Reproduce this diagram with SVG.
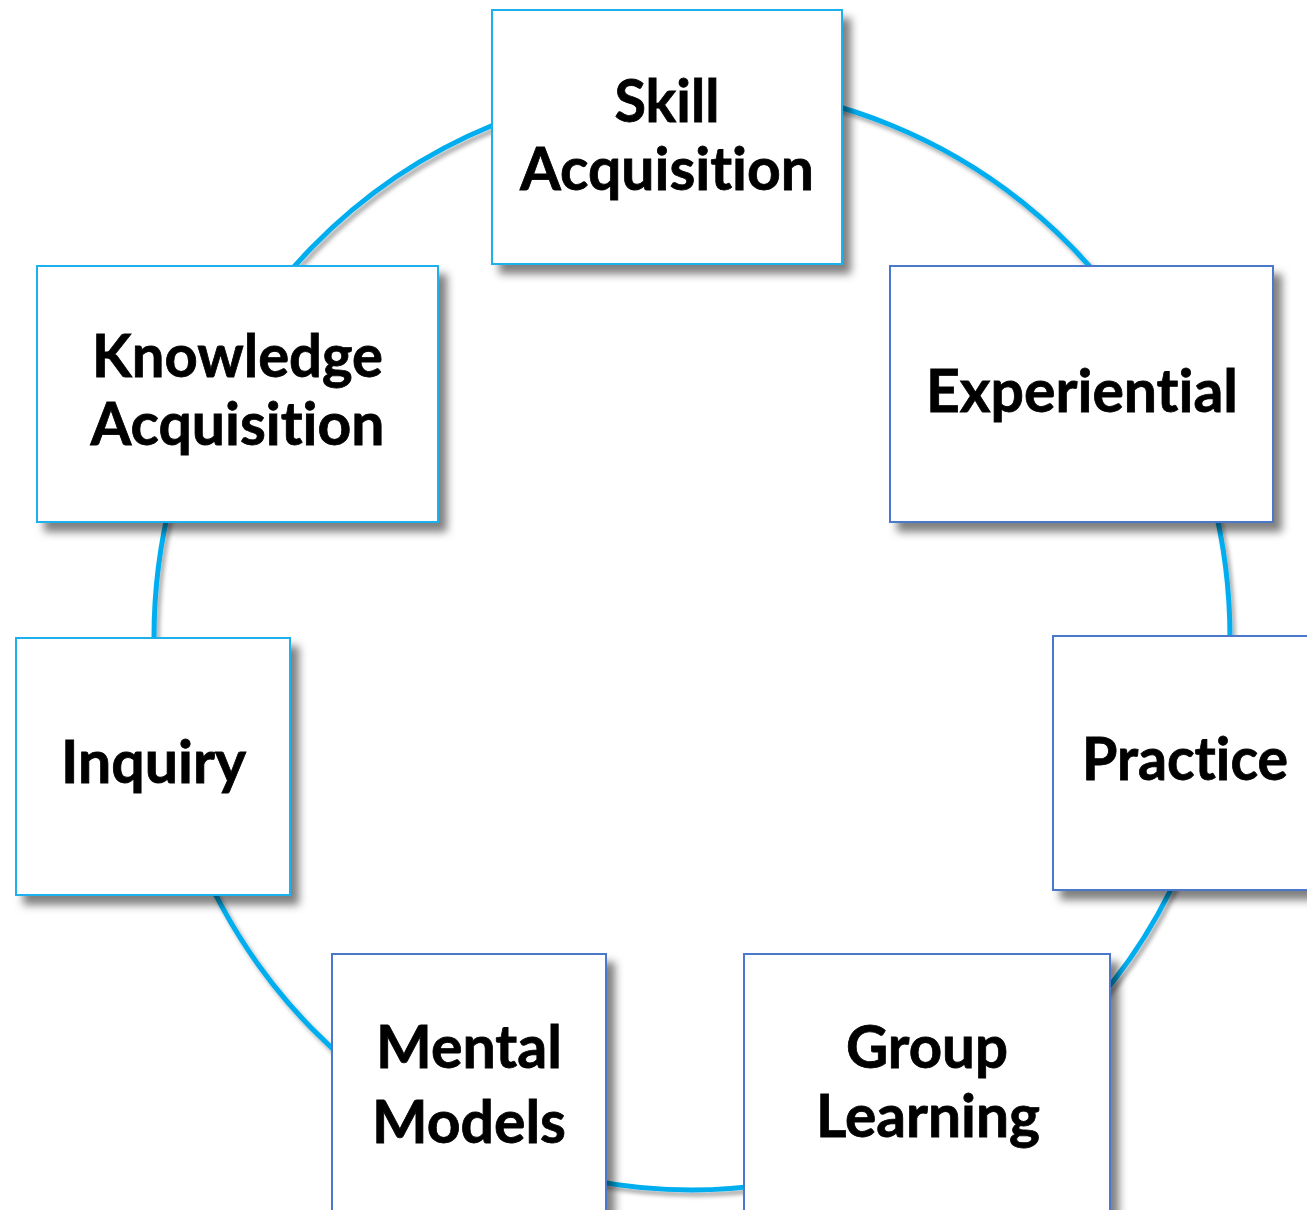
<svg xmlns="http://www.w3.org/2000/svg" width="1307" height="1210" viewBox="0 0 1307 1210">
<defs>
<filter id="sh" x="-10%" y="-10%" width="130%" height="130%">
<feDropShadow dx="8" dy="9" stdDeviation="4" flood-color="#000" flood-opacity="0.5"/>
</filter>
<filter id="lsh" x="-10%" y="-10%" width="130%" height="130%">
<feDropShadow dx="3" dy="4" stdDeviation="2" flood-color="#000" flood-opacity="0.35"/>
</filter>
</defs>
<style>
.box{fill:#fff;stroke-width:2;filter:url(#sh)}
.lb{stroke:#1fb0ec}
.db{stroke:#4a78cc}
.t{font-family:Lato,"Open Sans","Liberation Sans",sans-serif;font-weight:bold;font-size:60px;fill:#000;stroke:#000;stroke-width:0.8;text-anchor:middle;font-variant-ligatures:none;font-feature-settings:"liga" 0,"clig" 0}
.ring{fill:none;stroke:#00aeef;stroke-width:5}
</style>
<rect width="1307" height="1210" fill="#fff"/>
<g id="connectors">
<ellipse class="ring" cx="692" cy="638" rx="538" ry="552" filter="url(#lsh)"/>
</g>
<g id="skill">
<rect class="box lb" x="492" y="10" width="350" height="254"/>
<text class="t" x="667" y="122" textLength="105" lengthAdjust="spacingAndGlyphs">Skill</text>
<text class="t" x="667" y="190" textLength="294" lengthAdjust="spacingAndGlyphs">Acquisition</text>
</g>
<g id="experiential">
<rect class="box db" x="890" y="266" width="383" height="256"/>
<text class="t" x="1082" y="412" textLength="312" lengthAdjust="spacingAndGlyphs">Experiential</text>
</g>
<g id="practice">
<rect class="box db" x="1053" y="636" width="270" height="254"/>
<text class="t" x="1185" y="780" textLength="206" lengthAdjust="spacingAndGlyphs">Practice</text>
</g>
<g id="group-learning">
<rect class="box db" x="744" y="954" width="366" height="280"/>
<text class="t" x="927" y="1068" textLength="162" lengthAdjust="spacingAndGlyphs">Group</text>
<text class="t" x="928" y="1137" textLength="224" lengthAdjust="spacingAndGlyphs">Learning</text>
</g>
<g id="mental-models">
<rect class="box db" x="332" y="954" width="274" height="280"/>
<text class="t" x="469" y="1068" textLength="186" lengthAdjust="spacingAndGlyphs">Mental</text>
<text class="t" x="469" y="1143" textLength="194" lengthAdjust="spacingAndGlyphs">Models</text>
</g>
<g id="inquiry">
<rect class="box lb" x="16" y="638" width="274" height="257"/>
<text class="t" x="153.5" y="783" textLength="185" lengthAdjust="spacingAndGlyphs">Inquiry</text>
</g>
<g id="knowledge">
<rect class="box lb" x="37" y="266" width="401" height="256"/>
<text class="t" x="237.5" y="377" textLength="291" lengthAdjust="spacingAndGlyphs">Knowledge</text>
<text class="t" x="237.5" y="445" textLength="294" lengthAdjust="spacingAndGlyphs">Acquisition</text>
</g>
</svg>
